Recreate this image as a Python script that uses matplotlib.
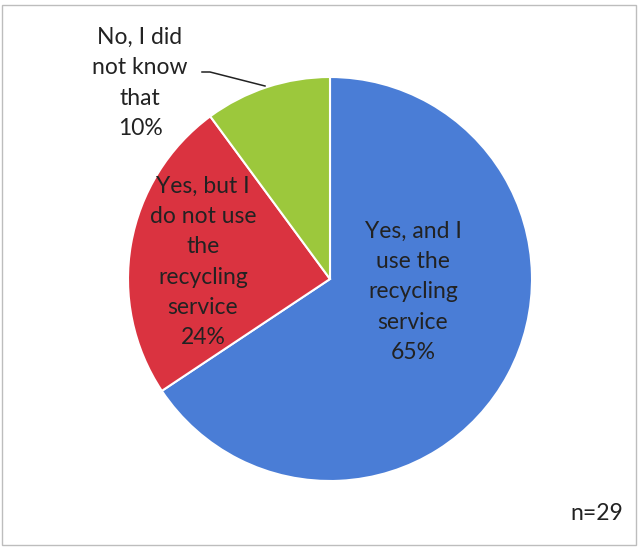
import matplotlib.pyplot as plt
from matplotlib.patches import Rectangle

categories = ['Yes, and I\nuse the\nrecycling\nservice', 'Yes, but I\ndo not use\nthe\nrecycling\nservice', 'No, I did\nnot know\nthat']
shares = [65, 24, 10]
colors = ['#4A7DD6', '#DA3340', '#9CC83C']
n_resp = 29

W, H = 639, 550
fig = plt.figure(figsize=(W / 100, H / 100), dpi=100)
ax = fig.add_axes([0, 0, 1, 1])

cx, cy, r = 330, 271, 202
ax.pie(shares, colors=colors, startangle=90, counterclock=False,
       center=(cx, cy), radius=r, frame=True,
       wedgeprops=dict(edgecolor='white', linewidth=1.5))
ax.set_xlim(0, W)
ax.set_ylim(0, H)
ax.set_aspect('equal')
ax.axis('off')

# chart frame
ax.add_patch(Rectangle((2, 5), 634, 540, fill=False, edgecolor='#BDBDBD', lw=1))

font = dict(family='Lato', fontsize=16.5, color='#222222', ha='center', va='center', linespacing=1.55)
label_pos = [(413, 258), (203, 288), (140, 467)]
for (x, y), name, pct in zip(label_pos, categories, shares):
    ax.text(x, y, f'{name}\n{pct}%', **font)

# leader line for the small slice
ax.plot([202, 210, 265], [478, 478, 464], color='#222222', lw=1.1)

ax.text(597, 37, f'n={n_resp}', family='Lato', fontsize=16.5, color='#222222', ha='center', va='center')

fig.savefig('out.png', dpi=100)
